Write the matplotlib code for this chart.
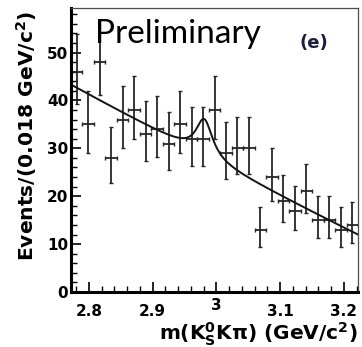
''' ########################### IMPORT MODULES ########################### '''
import numpy as np
import matplotlib as mpl
mpl.use('Agg')
import matplotlib.pyplot as pl
from matplotlib.ticker import MultipleLocator
from matplotlib.transforms import ScaledTranslation
from matplotlib.patches import Rectangle

''' ########################### DATA ########################### '''
# 25 bins of 0.018 GeV/c^2 from 2.772 to 3.222
bin_lo, bin_hi, n_bins = 2.772, 3.222, 25
counts = [46, 35, 48, 28, 36, 38, 33, 34, 31, 35, 32, 32, 38,
          29, 30, 30, 13, 24, 19, 17, 21, 15, 15, 13, 14]
# asymmetric (poisson) error bars
err_lo = [6.8, 5.9, 6.9, 5.3, 6.0, 6.1, 5.7, 5.8, 5.5, 5.9, 5.6, 5.6, 6.1,
          5.4, 5.4, 5.4, 3.6, 4.9, 4.3, 4.1, 4.5, 3.8, 3.8, 3.6, 3.7]
err_hi = [7.8, 7.0, 8.0, 6.4, 7.1, 7.2, 6.8, 6.9, 6.6, 7.0, 6.7, 6.7, 7.2,
          6.5, 6.6, 6.6, 4.7, 6.0, 5.4, 5.2, 5.7, 5.0, 5.0, 4.7, 4.8]

# fit curve: quadratic background (in m - 3.0) + Breit-Wigner at the eta_c
bkg_pars = [27.0, -69.5, 8.0]
bw_mass, bw_width, bw_amp = 2.981, 0.032, 7.8

x_ticks = [2.8, 2.9, 3.0, 3.1, 3.2]
x_ticklabels = ['2.8', '2.9', '3', '3.1', '3.2']
y_ticks = [0, 10, 20, 30, 40, 50]
y_lims = [0, 59.3]

''' ########################### FIGURE ########################### '''
mpl.rc('font', family='DejaVu Sans', weight='bold')
mpl.rc('axes', labelweight='bold')
mpl.rc('mathtext', fontset='dejavusans', default='bf')

W, H = 362, 347
fig = pl.figure(figsize=(W / 100, H / 100), dpi=100)
ax = fig.add_axes([71 / W, 55 / H, 287 / W, 284 / H])

width = (bin_hi - bin_lo) / n_bins
centers = bin_lo + width * (np.arange(n_bins) + 0.5)

ax.errorbar(centers, counts, yerr=[err_lo, err_hi], xerr=width / 2,
            fmt='none', ecolor='#262626', elinewidth=1.3, capsize=1.2,
            capthick=1.0)

xf = np.linspace(bin_lo, bin_hi, 400)
t = xf - 3.0
bkg = bkg_pars[0] + bkg_pars[1] * t + bkg_pars[2] * t ** 2
half = bw_width / 2
yf = bkg + bw_amp * half ** 2 / ((xf - bw_mass) ** 2 + half ** 2)
ax.plot(xf, yf, color='#141414', lw=1.4)

ax.set_xlim(bin_lo, bin_hi)
ax.set_ylim(y_lims)
ax.set_xticks(x_ticks)
ax.set_xticklabels(x_ticklabels)
ax.set_yticks(y_ticks)
ax.xaxis.set_minor_locator(MultipleLocator(0.02))
ax.yaxis.set_minor_locator(MultipleLocator(2))
ax.tick_params(which='both', direction='in', top=False, right=False,
               labelsize=11, colors='black')
ax.tick_params(which='major', length=7, width=1.2)
ax.tick_params(which='minor', length=4, width=1.0)
ax.tick_params(axis='x', pad=9)
ax.tick_params(axis='y', pad=2)

# ROOT draws the "3" a bit higher than the others
lbl3 = ax.get_xticklabels()[2]
lbl3.set_transform(lbl3.get_transform() +
                   ScaledTranslation(0, 5 / 72, fig.dpi_scale_trans))

for s in ['left', 'bottom']:
    ax.spines[s].set_linewidth(2.2)
    ax.spines[s].set_color('black')
for s in ['top', 'right']:
    ax.spines[s].set_linewidth(0.9)
    ax.spines[s].set_color('#4d4d4d')

ax.set_ylabel('Events/(0.018 GeV/c$^2$)', fontsize=14.6, fontweight='bold',
              loc='top')
ax.yaxis.set_label_coords(-0.113, 0.99)
ax.set_xlabel('m(K$^0_S$K\u03c0) (GeV/c$^2$)', fontsize=14.5,
              fontweight='bold', loc='right', va='top')
ax.xaxis.set_label_coords(1.0, -0.1)

# white patch under the overlaid "Preliminary" text
fig.patches.append(Rectangle((93 / W, (H - 43) / H), 172 / W, 28 / H,
                             transform=fig.transFigure, facecolor='white',
                             edgecolor='none', zorder=5))
fig.text(95 / W, (H - 43) / H, 'Preliminary', family='Lato',
         weight='normal', fontsize=24, va='baseline', ha='left', zorder=6)
fig.text(314 / W, (H - 43) / H, '(e)', fontsize=13, color='#1c1c3c',
         ha='center', va='center', zorder=6)

fig.savefig('out.png', dpi=100)
